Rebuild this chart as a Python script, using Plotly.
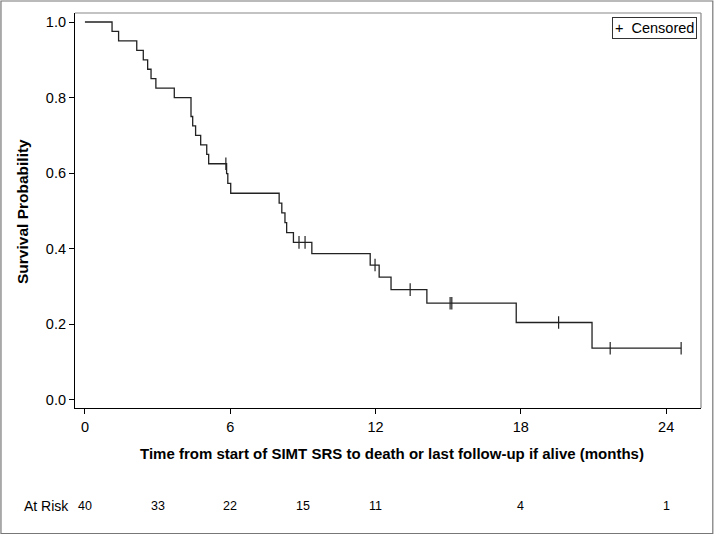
import plotly.graph_objects as go

# Kaplan-Meier step curve
step_times = [0, 1.12, 1.39, 2.14, 2.41, 2.59, 2.73, 2.93, 3.69, 4.38, 4.45, 4.57,
              4.78, 5.03, 5.11, 5.85, 5.90, 6.02, 8.02, 8.13, 8.26, 8.33, 8.61,
              9.37, 11.78, 12.15, 12.64, 14.12, 17.81, 20.94, 24.62]
survival = [1.0, 0.975, 0.95, 0.925, 0.9, 0.875, 0.85, 0.825, 0.8, 0.75, 0.725, 0.7,
            0.675, 0.65, 0.625, 0.599, 0.573, 0.547, 0.521, 0.495, 0.469, 0.443, 0.417,
            0.387, 0.357, 0.325, 0.292, 0.256, 0.205, 0.137, 0.137]

# Censored observations
censor_times = [5.82, 8.84, 9.09, 11.98, 13.43, 15.08, 15.15, 19.56, 21.69, 24.62]
censor_surv = [0.625, 0.417, 0.417, 0.357, 0.292, 0.256, 0.256, 0.205, 0.137, 0.137]

# Number at risk
risk_times = [0, 3, 6, 9, 12, 18, 24]
risk_counts = [40, 33, 22, 15, 11, 4, 1]

x_ticks = [0, 6, 12, 18, 24]
y_ticks = [0.0, 0.2, 0.4, 0.6, 0.8, 1.0]

W, H = 714, 535
L, R, T, B = 75, 13.3, 13, 127
pw, ph = W - L - R, H - T - B

def px_x(p):
    return (p - L) / pw

def px_y(p):
    return (H - B - p) / ph

FONT = "Liberation Sans, Arial, sans-serif"
ink = "#222222"

fig = go.Figure()
fig.add_trace(go.Scatter(x=step_times, y=survival, mode="lines",
                         line=dict(color=ink, width=1.3, shape="hv"),
                         showlegend=False, hoverinfo="skip"))
fig.add_trace(go.Scatter(x=censor_times, y=censor_surv, mode="markers",
                         marker=dict(symbol="line-ns", size=9,
                                     line=dict(color=ink, width=1.2)),
                         showlegend=False, name="Censored"))

fig.update_layout(
    width=W, height=H,
    margin=dict(l=L, r=R, t=T, b=B, autoexpand=False),
    paper_bgcolor="white", plot_bgcolor="white",
    font=dict(family=FONT, size=14, color="black"),
    xaxis=dict(range=[-0.41, 25.44], tickvals=x_ticks, ticks="outside", ticklen=5,
               tickcolor="black", showline=True, linecolor="black", linewidth=1.2,
               showgrid=False, zeroline=False, tickfont=dict(size=14.5),
               automargin=False),
    yaxis=dict(range=[-0.0212, 1.0238], tickvals=y_ticks, tickformat=".1f",
               ticks="outside", ticklen=5, tickcolor="black", showline=True,
               linecolor="black", linewidth=1.2, showgrid=False, zeroline=False,
               tickfont=dict(size=14.5), automargin=False),
    shapes=[
        dict(type="line", xref="paper", yref="paper", x0=0, x1=1, y0=1, y1=1,
             line=dict(color="#888888", width=1.2)),
        dict(type="line", xref="paper", yref="paper", x0=1, x1=1, y0=0, y1=1,
             line=dict(color="#888888", width=1.2)),
        dict(type="rect", xref="paper", yref="paper",
             x0=px_x(1), x1=px_x(712.5), y0=px_y(533.5), y1=px_y(1),
             line=dict(color="#777777", width=1.2)),
    ],
)

annotations = []
annotations.append(dict(text="<b>Time from start of SIMT SRS to death or last follow-up if alive (months)</b>",
                        xref="paper", yref="paper", x=px_x(392), y=px_y(453),
                        xanchor="center", yanchor="middle", showarrow=False,
                        font=dict(size=15)))
annotations.append(dict(text="<b>Survival Probability</b>", textangle=-90,
                        xref="paper", yref="paper", x=px_x(22), y=px_y(211),
                        xanchor="center", yanchor="middle", showarrow=False,
                        font=dict(size=15.5)))
annotations.append(dict(text="+  Censored", xref="paper", yref="paper",
                        x=px_x(697), y=px_y(17), xanchor="right", yanchor="top",
                        showarrow=False, font=dict(size=14.5),
                        bordercolor="#333333", borderwidth=1, borderpad=2,
                        bgcolor="white"))
annotations.append(dict(text="At Risk", xref="paper", yref="paper",
                        x=px_x(71), y=px_y(506), xanchor="right", yanchor="middle",
                        showarrow=False, font=dict(size=14)))
for t, n in zip(risk_times, risk_counts):
    annotations.append(dict(text=str(n), xref="x", yref="paper", x=t, y=px_y(506),
                            xanchor="center", yanchor="middle", showarrow=False,
                            font=dict(size=12.5)))
fig.update_layout(annotations=annotations)

fig.write_html("out.html", config={"displayModeBar": False},
               post_script="document.body.style.margin='0';document.body.style.padding='0';")
